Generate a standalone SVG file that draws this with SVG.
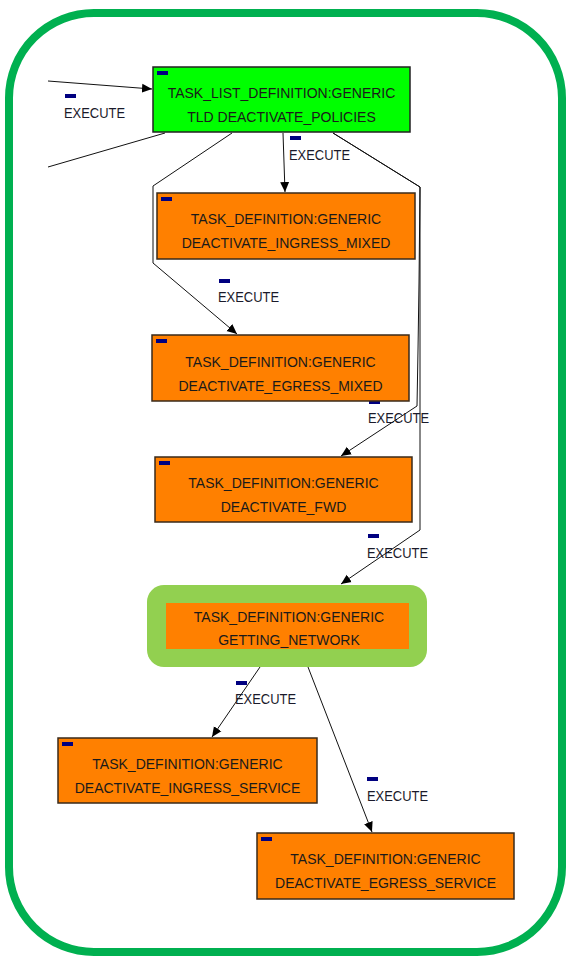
<svg xmlns="http://www.w3.org/2000/svg" width="568" height="956" viewBox="0 0 568 956">
<defs>
<marker id="arr" viewBox="0 0 10 10" refX="10" refY="5" markerWidth="10" markerHeight="10" markerUnits="userSpaceOnUse" orient="auto">
<path d="M0,0.5 L10,5 L0,9.5 Z" fill="#000"/>
</marker>
<style>
.frame{fill:#fff;stroke:#00B050;stroke-width:8}
.tld{fill:#00FF00;stroke:#222;stroke-width:1.5}
.task{fill:#FF8000;stroke:#3a2a1a;stroke-width:1.5}
.hl{fill:#92D050}
.inner{fill:#FF8000}
.bar{fill:#000080}
.nt{font-family:"Liberation Sans",Arial,sans-serif;font-size:14px;fill:#1a1a1a;text-anchor:middle}
.lt{font-family:"Liberation Sans",Arial,sans-serif;font-size:14px;fill:#1a1a2a}
.edge{fill:none;stroke:#111;stroke-width:1}
</style>
</defs>
<rect class="frame" x="9" y="13" width="553" height="939" rx="85" ry="85"/>

<g id="connectors">
<path class="edge" d="M48,81 L152,89" marker-end="url(#arr)"/>
<path class="edge" d="M165,133 L48,167"/>
<path class="edge" d="M283,133 L285,192" marker-end="url(#arr)"/>
<path class="edge" d="M232,133 L153,186 L153,263 L237,334" marker-end="url(#arr)"/>
<path class="edge" d="M333,133 L420,187 L419,283 L418,350 L417,406 L341,456" marker-end="url(#arr)"/>
<path class="edge" d="M333,133 L420,187 L420,530 L341,584" marker-end="url(#arr)"/>
<path class="edge" d="M260,667 L212,737" marker-end="url(#arr)"/>
<path class="edge" d="M308,667 L372,832" marker-end="url(#arr)"/>
<g id="edge-labels">
<rect class="bar" x="65" y="94" width="11" height="4"/><text class="lt" x="64" y="118" textLength="61" lengthAdjust="spacingAndGlyphs">EXECUTE</text>
<rect class="bar" x="290" y="136" width="11" height="4"/><text class="lt" x="289" y="160" textLength="61" lengthAdjust="spacingAndGlyphs">EXECUTE</text>
<rect class="bar" x="219" y="279" width="11" height="4"/><text class="lt" x="218" y="302" textLength="61" lengthAdjust="spacingAndGlyphs">EXECUTE</text>
<rect class="bar" x="369" y="400" width="11" height="4"/><text class="lt" x="368" y="423" textLength="61" lengthAdjust="spacingAndGlyphs">EXECUTE</text>
<rect class="bar" x="368" y="534" width="11" height="4"/><text class="lt" x="367" y="558" textLength="61" lengthAdjust="spacingAndGlyphs">EXECUTE</text>
<rect class="bar" x="236" y="681" width="11" height="4"/><text class="lt" x="235" y="704" textLength="61" lengthAdjust="spacingAndGlyphs">EXECUTE</text>
<rect class="bar" x="367" y="777" width="11" height="4"/><text class="lt" x="367" y="801" textLength="61" lengthAdjust="spacingAndGlyphs">EXECUTE</text>
</g>
</g>

<g id="tld-deactivate-policies">
<rect class="tld" x="153" y="67" width="257" height="65"/>
<rect class="bar" x="157" y="71" width="11" height="4"/>
<text class="nt" x="281.5" y="98">TASK_LIST_DEFINITION:GENERIC</text>
<text class="nt" x="281.5" y="122">TLD DEACTIVATE_POLICIES</text>
</g>

<g id="deactivate-ingress-mixed">
<rect class="task" x="157" y="193" width="258" height="66"/>
<rect class="bar" x="161" y="197" width="11" height="4"/>
<text class="nt" x="286" y="224">TASK_DEFINITION:GENERIC</text>
<text class="nt" x="286" y="248">DEACTIVATE_INGRESS_MIXED</text>
</g>

<g id="deactivate-egress-mixed">
<rect class="task" x="152" y="335" width="257" height="66"/>
<rect class="bar" x="156" y="339" width="11" height="4"/>
<text class="nt" x="280.5" y="367">TASK_DEFINITION:GENERIC</text>
<text class="nt" x="280.5" y="391">DEACTIVATE_EGRESS_MIXED</text>
</g>

<g id="deactivate-fwd">
<rect class="task" x="155" y="457" width="257" height="65"/>
<rect class="bar" x="159" y="461" width="11" height="4"/>
<text class="nt" x="283.5" y="488">TASK_DEFINITION:GENERIC</text>
<text class="nt" x="283.5" y="512">DEACTIVATE_FWD</text>
</g>

<g id="getting-network">
<rect class="hl" x="147" y="585" width="280" height="82" rx="17" ry="17"/>
<rect class="inner" x="166" y="603" width="243" height="46"/>
<text class="nt" x="289" y="622">TASK_DEFINITION:GENERIC</text>
<text class="nt" x="289" y="645">GETTING_NETWORK</text>
</g>

<g id="deactivate-ingress-service">
<rect class="task" x="58" y="738" width="259" height="65"/>
<rect class="bar" x="62" y="742" width="11" height="4"/>
<text class="nt" x="187.5" y="769">TASK_DEFINITION:GENERIC</text>
<text class="nt" x="187.5" y="793">DEACTIVATE_INGRESS_SERVICE</text>
</g>

<g id="deactivate-egress-service">
<rect class="task" x="257" y="833" width="257" height="66"/>
<rect class="bar" x="261" y="837" width="11" height="4"/>
<text class="nt" x="385.5" y="864">TASK_DEFINITION:GENERIC</text>
<text class="nt" x="385.5" y="888">DEACTIVATE_EGRESS_SERVICE</text>
</g>
</svg>
